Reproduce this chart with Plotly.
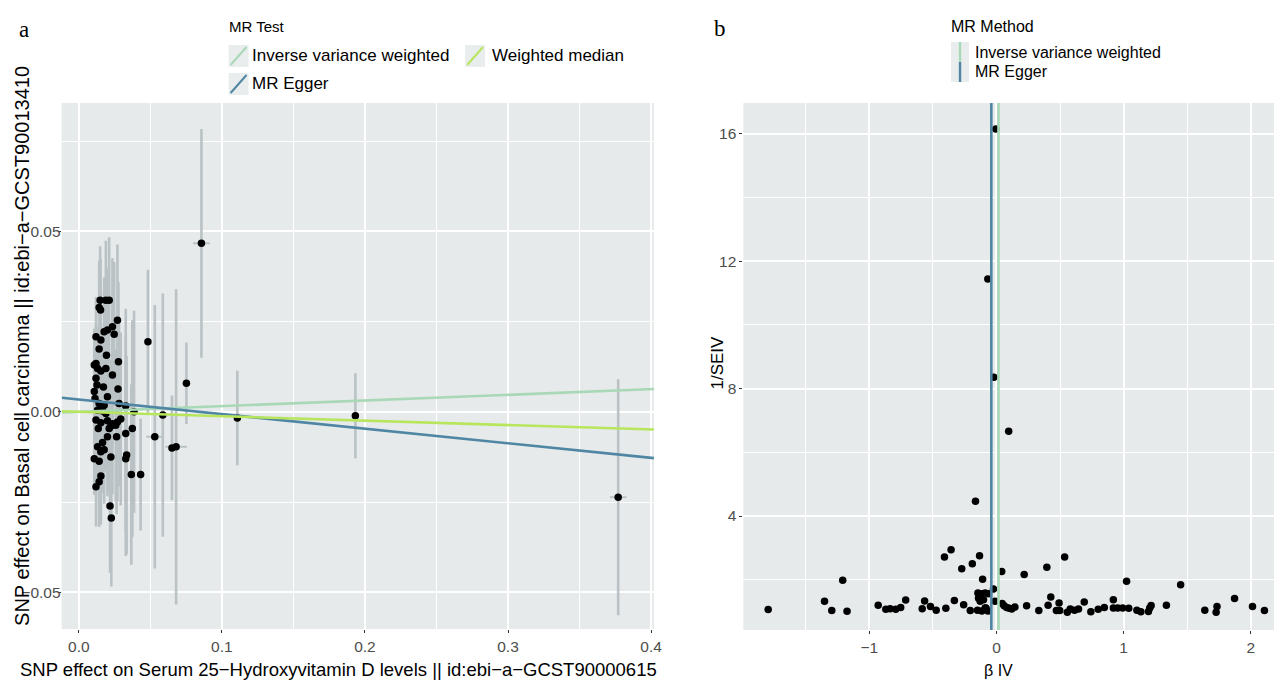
import plotly.graph_objects as go

W, H = 1282, 681


def fx(p):
    return p / W


def fy(p):
    return 1 - p / H


# ---------------- Panel a: scatter (SNP effects) ----------------
snp_bx = [0.0149, 0.0189, 0.0212, 0.0142, 0.0152, 0.0270, 0.0235, 0.0200, 0.0177, 0.0247,
          0.0120, 0.0154, 0.0142, 0.0193, 0.0277, 0.0120, 0.0131, 0.0108, 0.0189, 0.0154,
          0.0235, 0.0120, 0.0127, 0.0172, 0.0274, 0.0108, 0.0113, 0.0200, 0.0142, 0.0177,
          0.0154, 0.0281, 0.0131, 0.0166, 0.0189, 0.0120, 0.0154, 0.0200, 0.0235, 0.0270,
          0.0293, 0.0258, 0.0223, 0.0136, 0.0212, 0.0264, 0.0200, 0.0328, 0.0374, 0.0166,
          0.0131, 0.0177, 0.0154, 0.0224, 0.0108, 0.0142, 0.0334, 0.0328, 0.0154, 0.0142,
          0.0120, 0.0367, 0.0432, 0.0218, 0.0227, 0.0857, 0.0483, 0.0752, 0.1108, 0.1933,
          0.3770, 0.0587, 0.0531, 0.0651, 0.0680, 0.0386, 0.0328]
snp_by = [0.0309, 0.0309, 0.0309, 0.0289, 0.0282, 0.0254, 0.0236, 0.0227, 0.0222, 0.0215,
          0.0208, 0.0199, 0.0174, 0.0157, 0.0139, 0.0134, 0.0120, 0.0130, 0.0120, 0.0113,
          0.0102, 0.0093, 0.0074, 0.0069, 0.0063, 0.0056, 0.0037, 0.0042, 0.0023, 0.0018,
          0.0014, 0.0023, 0.0004, 0.0002, -0.0005, -0.0023, -0.0030, -0.0025, -0.0033, -0.0028,
          -0.0020, -0.0037, -0.0040, -0.0046, -0.0046, -0.0069, -0.0069, -0.0060, -0.0046, -0.0085,
          -0.0097, -0.0105, -0.0111, -0.0125, -0.0130, -0.0137, -0.0120, -0.0130, -0.0178, -0.0194,
          -0.0208, -0.0174, -0.0174, -0.0261, -0.0294, 0.0467, 0.0194, 0.0079, -0.0017, -0.0011,
          -0.0237, -0.0009, -0.0069, -0.0100, -0.0097, 0.0000, 0.0016]
snp_se_by = [0.0150, 0.0165, 0.0175, 0.0130, 0.0140, 0.0210, 0.0190, 0.0170, 0.0150, 0.0200,
             0.0110, 0.0135, 0.0125, 0.0160, 0.0220, 0.0105, 0.0115, 0.0100, 0.0160, 0.0135,
             0.0190, 0.0105, 0.0115, 0.0145, 0.0225, 0.0100, 0.0100, 0.0165, 0.0125, 0.0150,
             0.0130, 0.0230, 0.0115, 0.0140, 0.0160, 0.0105, 0.0130, 0.0170, 0.0195, 0.0220,
             0.0240, 0.0210, 0.0185, 0.0120, 0.0175, 0.0215, 0.0165, 0.0270, 0.0300, 0.0140,
             0.0115, 0.0150, 0.0130, 0.0185, 0.0100, 0.0120, 0.0275, 0.0270, 0.0135, 0.0125,
             0.0110, 0.0250, 0.0155, 0.0185, 0.0190, 0.0317, 0.0200, 0.0113, 0.0131, 0.0118,
             0.0327, 0.0337, 0.0365, 0.0145, 0.0437, 0.0280, 0.0270]
snp_se_bx = [0.0008] * 65 + [0.0058, 0.0015, 0.0015, 0.0015, 0.0015,
                             0.0058, 0.0015, 0.0060, 0.0015, 0.0075, 0.0012, 0.0012]

# MR estimates (slopes / intercept)
mr_methods = ["Inverse variance weighted", "MR Egger", "Weighted median"]
mr_b = [0.0157, -0.0404, -0.0122]
mr_intercept = [0.0, 0.0034, 0.0]
mr_colors = ["#A9D8B6", "#4F86A3", "#B7E65C"]

# ---------------- Panel b: funnel ----------------
beta_iv = [-0.005, -0.068, -0.020, 0.096, -0.165,
           -0.409, -0.357, -0.273, -0.190, -0.133, -0.109, 0.041, 0.218, 0.396, 0.536,
           1.023, 1.448, -1.209, -0.024, 0.427, 1.872, -1.352, -0.714, -0.565, -0.331,
           0.919, 0.690, -0.011,
           -0.146, -0.120, -0.089, -0.063, -0.141, -0.128, -0.102, -0.083, -0.115, -0.067,
           0.045, 0.060, 0.080, 0.100, 0.120, 0.145,
           -1.795, -1.295, -1.175, -0.930, -0.870, -0.836, -0.792, -0.753, -0.584, -0.519,
           -0.474, -0.398, -0.258, -0.206, -0.149, -0.089,
           0.237, 0.333, 0.406, 0.471, 0.497, 0.492, 0.557, 0.580, 0.614, 0.645,
           0.742, 0.800, 0.848, 0.919, 0.953, 0.992, 1.040, 1.104, 1.135, 1.195,
           1.205, 1.216, 1.336, 1.638, 1.727, 1.734, 2.013, 2.107]
inv_se_iv = [16.15, 11.44, 8.36, 6.66, 4.46,
             2.71, 2.94, 2.34, 2.50, 2.75, 2.01, 2.26, 2.16, 2.39, 2.71,
             1.95, 1.84, 1.98, 1.71, 1.46, 1.41, 1.32, 1.36, 1.33, 1.35,
             1.37, 1.30, 1.32,
             1.58, 1.56, 1.58, 1.56, 1.42, 1.32, 1.37, 1.11, 1.02, 1.02,
             1.25, 1.18, 1.13, 1.10, 1.08, 1.14,
             1.06, 1.03, 1.01, 1.20, 1.07, 1.09, 1.07, 1.13, 1.09, 1.16,
             1.04, 1.10, 1.21, 1.03, 1.04, 1.11,
             1.18, 1.03, 1.20, 1.03, 1.03, 1.27, 0.98, 1.08, 1.04, 1.08,
             0.99, 1.07, 1.13, 1.11, 1.11, 1.11, 1.10, 1.04, 0.99, 1.00,
             1.11, 1.19, 1.20, 1.04, 0.98, 1.16, 1.16, 1.03]
funnel_methods = ["Inverse variance weighted", "MR Egger"]

# ---------------- styling ----------------
PANEL_BG = "#E6EAEA"
ERR_COL = "#BAC2C5"
TICK_COL = "#4D4D4D"
FONT = "Liberation Sans, Arial, sans-serif"
SERIF = "Liberation Serif, DejaVu Serif, serif"

xa_range = [-0.012, 0.402]
ya_range = [-0.0602, 0.0856]
xb_range = [-1.99, 2.245]
yb_range = [0.42, 16.97]

fig = go.Figure()

# error bars (drawn beneath points)
fig.add_trace(go.Scatter(
    x=snp_bx, y=snp_by, mode="markers", xaxis="x", yaxis="y",
    marker=dict(size=2, color="rgba(0,0,0,0)"),
    error_y=dict(type="data", array=snp_se_by, visible=True, width=0,
                 thickness=2.6, color=ERR_COL),
    error_x=dict(type="data", array=snp_se_bx, visible=True, width=0,
                 thickness=2.0, color=ERR_COL),
    showlegend=False, hoverinfo="skip"))
# points
fig.add_trace(go.Scatter(
    x=snp_bx, y=snp_by, mode="markers", xaxis="x", yaxis="y",
    marker=dict(size=7.5, color="black"), showlegend=False))
# regression lines
for name, b, a, col in zip(mr_methods, mr_b, mr_intercept, mr_colors):
    fig.add_trace(go.Scatter(
        x=xa_range, y=[a + b * xa_range[0], a + b * xa_range[1]],
        mode="lines", xaxis="x", yaxis="y", name=name,
        line=dict(color=col, width=2.6), showlegend=False))

# funnel points
fig.add_trace(go.Scatter(
    x=beta_iv, y=inv_se_iv, mode="markers", xaxis="x2", yaxis="y2",
    marker=dict(size=7.5, color="black"), showlegend=False))

shapes = []
for name in funnel_methods:
    i = mr_methods.index(name)
    shapes.append(dict(type="line", xref="x2", yref="y2 domain",
                       x0=mr_b[i], x1=mr_b[i], y0=0, y1=1,
                       line=dict(color=mr_colors[i], width=2.6), layer="above"))

# legend keys (panel a): diagonal line glyphs
KEY_BG = "#E9EDED"
keys_a = [(222, 37, mr_colors[0]), (460, 37, mr_colors[2]), (222, 65, mr_colors[1])]
for kx, ky, col in keys_a:
    shapes.append(dict(type="rect", xref="paper", yref="paper",
                       x0=fx(kx), x1=fx(kx + 20), y0=fy(ky + 22), y1=fy(ky),
                       fillcolor=KEY_BG, line=dict(width=0), layer="above"))
    shapes.append(dict(type="line", xref="paper", yref="paper",
                       x0=fx(kx + 2), x1=fx(kx + 18), y0=fy(ky + 20), y1=fy(ky + 2),
                       line=dict(color=col, width=2), layer="above"))
# legend keys (panel b): vertical line glyphs
keys_b = [(949, 34, mr_colors[0]), (949, 54, mr_colors[1])]
for kx, ky, col in keys_b:
    shapes.append(dict(type="rect", xref="paper", yref="paper",
                       x0=fx(kx), x1=fx(kx + 18), y0=fy(ky + 20), y1=fy(ky),
                       fillcolor=KEY_BG, line=dict(width=0), layer="above"))
    shapes.append(dict(type="line", xref="paper", yref="paper",
                       x0=fx(kx + 9), x1=fx(kx + 9), y0=fy(ky + 20), y1=fy(ky),
                       line=dict(color=col, width=2.4), layer="above"))


def ann(text, x, y, size=15, anchor="left", angle=0, family=FONT, color="black"):
    return dict(text=text, x=fx(x), y=fy(y), xref="paper", yref="paper",
                xanchor=anchor, yanchor="middle", showarrow=False, textangle=angle,
                font=dict(size=size, family=family, color=color))


annotations = [
    ann("a", 9, 21, size=23, family=SERIF),
    ann("b", 708, 20, size=23, family=SERIF),
    ann("MR Test", 220, 19, size=15),
    ann("Inverse variance weighted", 244, 48, size=17),
    ann("Weighted median", 485, 48, size=17),
    ann("MR Egger", 244, 76, size=17),
    ann("MR Method", 947, 19, size=16),
    ann("Inverse variance weighted", 971, 44, size=16),
    ann("MR Egger", 971, 64, size=16),
    ann("SNP effect on Serum 25\u2212Hydroxyvitamin D levels || id:ebi\u2212a\u2212GCST90000615",
        333, 661, size=18.5, anchor="center"),
    ann("SNP effect on Basal cell carcinoma || id:ebi\u2212a\u2212GCST90013410",
        14, 338, size=20, anchor="center", angle=-90),
    ann("\u03b2 IV", 997, 662, size=16, anchor="center"),
    ann("1/SEIV", 713, 355, size=17, anchor="center", angle=-90),
]

axis_common = dict(showgrid=True, gridcolor="white", gridwidth=2, zeroline=False,
                   showline=False, ticks="outside", ticklen=3, tickcolor="#333333",
                   tickfont=dict(size=15.5, color=TICK_COL, family=FONT))
minor_common = dict(showgrid=True, gridcolor="white", gridwidth=1, ticks="")

fig.update_layout(
    width=W, height=H, margin=dict(l=0, r=0, t=0, b=0),
    paper_bgcolor="white", plot_bgcolor=PANEL_BG, showlegend=False,
    xaxis=dict(domain=[fx(54), fx(650)], range=xa_range, tick0=0, dtick=0.1,
               tickformat=".1f", minor=dict(dtick=0.05, **minor_common),
               anchor="y", **axis_common),
    yaxis=dict(domain=[fy(621), fy(95)], range=ya_range,
               tickvals=[-0.05, 0.0, 0.05], ticktext=["\u22120.05", "0.00", "0.05"],
               minor=dict(tickvals=[-0.075, -0.025, 0.025, 0.075], **minor_common),
               ticklabelstandoff=-6, anchor="x", **axis_common),
    xaxis2=dict(domain=[fx(740), 1.0], range=xb_range,
                tickvals=[-1, 0, 1, 2], ticktext=["\u22121", "0", "1", "2"],
                minor=dict(tickvals=[-1.5, -0.5, 0.5, 1.5], **minor_common),
                anchor="y2", **axis_common),
    yaxis2=dict(domain=[fy(622), fy(95)], range=yb_range,
                tickvals=[4, 8, 12, 16],
                minor=dict(tickvals=[2, 6, 10, 14], **minor_common),
                anchor="x2", **axis_common),
    shapes=shapes, annotations=annotations,
)

fig.write_html("out.html")
